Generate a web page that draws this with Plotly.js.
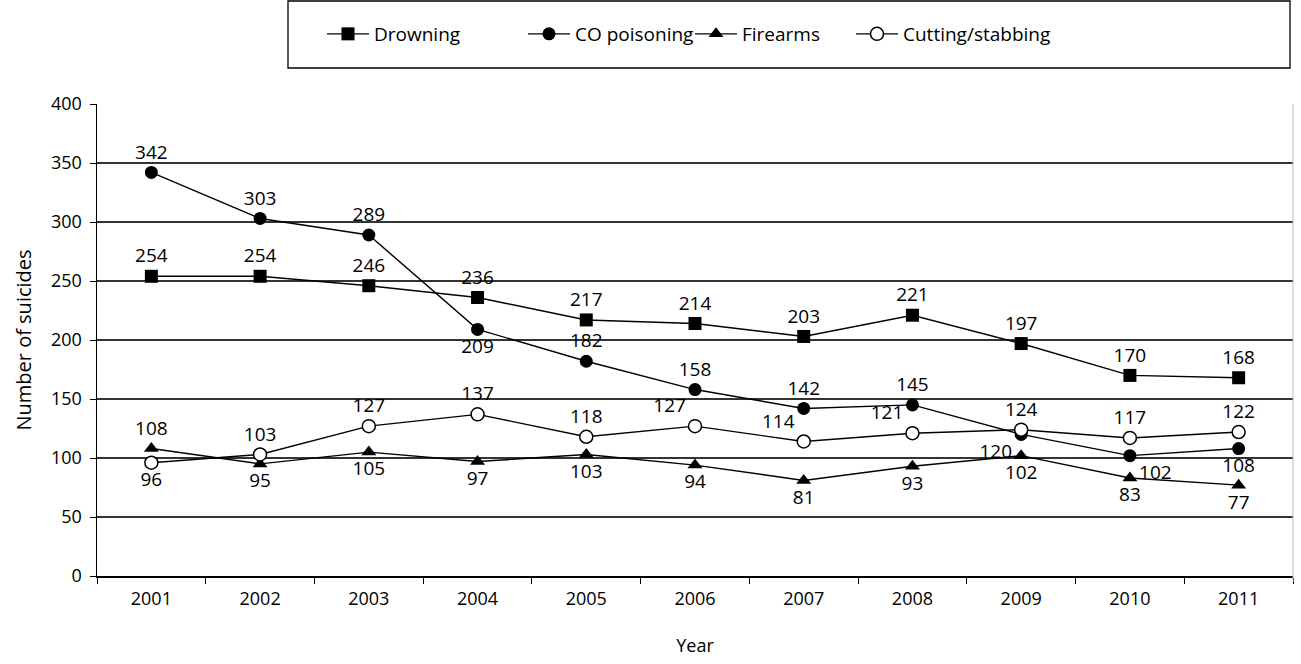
<!DOCTYPE html>
<html>
<head>
<meta charset="utf-8">
<script src="https://cdn.plot.ly/plotly-3.0.1.min.js"></script>
<style>html,body{margin:0;padding:0;background:#fff;}#chart{width:1301px;height:664px;}</style>
</head>
<body>
<div id="chart"></div>
<script>
const years = ['2001','2002','2003','2004','2005','2006','2007','2008','2009','2010','2011'];
const drowning = [254, 254, 246, 236, 217, 214, 203, 221, 197, 170, 168];
const coPoisoning = [342, 303, 289, 209, 182, 158, 142, 145, 120, 102, 108];
const firearms = [108, 95, 105, 97, 103, 94, 81, 93, 102, 83, 77];
const cutting = [96, 103, 127, 137, 118, 127, 114, 121, 124, 117, 122];
const seriesNames = ['Drowning', 'CO poisoning', 'Firearms', 'Cutting/stabbing'];

// label placement (style only)
const posDrowning = Array(11).fill('top center');
const posCO = ['top center','top center','top center','bottom center','top center','top center','top center','top center','bottom left','bottom right','bottom center'];
const posFire = ['top center','bottom center','bottom center','bottom center','bottom center','bottom center','bottom center','bottom center','bottom center','bottom center','bottom center'];
const posCut = ['bottom center','top center','top center','top center','top center','top left','top left','top left','top center','top center','top center'];

const FONT = 'Open Sans, sans-serif';
const lineStyle = {color: '#000', width: 1.4};
const txtFont = {family: FONT, size: 19, color: '#000'};

function mk(name, y, symbol, pos, legend, fill) {
  return {
    type: 'scatter', mode: 'lines+markers+text', name: name,
    x: years, y: y, text: y.map(String), textposition: pos,
    textfont: txtFont, cliponaxis: false,
    line: lineStyle,
    marker: {symbol: symbol, size: 13, color: fill,
             line: {color: '#000', width: fill === '#fff' ? 1.5 : 0}},
    legend: legend, hoverinfo: 'skip'
  };
}

const traces = [
  mk(seriesNames[0], drowning, 'square', posDrowning, 'legend', '#000'),
  mk(seriesNames[1], coPoisoning, 'circle', posCO, 'legend2', '#000'),
  mk(seriesNames[2], firearms, 'triangle-up', posFire, 'legend3', '#000'),
  mk(seriesNames[3], cutting, 'circle', posCut, 'legend4', '#fff')
];

// plot area: y from 104 to 576 (472 px), x from 97 to 1293
const PT = 104, PH = 472, PL = 97, PW = 1196;
function px2y(p) { return (PT + PH - p) / PH; }
function px2x(p) { return (p - PL) / PW; }

function leg(xp) {
  return {x: px2x(xp), y: px2y(34), xanchor: 'left', yanchor: 'middle', orientation: 'h',
          bgcolor: 'rgba(0,0,0,0)', borderwidth: 0, itemwidth: 42,
          font: {family: FONT, size: 19, color: '#000'}};
}

const layout = {
  width: 1301, height: 664,
  margin: {l: PL, r: 1301 - PL - PW, t: PT, b: 664 - PT - PH},
  paper_bgcolor: '#fff', plot_bgcolor: '#fff',
  font: {family: FONT, size: 18, color: '#000'},
  showlegend: true,
  legend: leg(322), legend2: leg(523), legend3: leg(690), legend4: leg(851),
  xaxis: {
    type: 'category', range: [-0.5, 10.5], tickson: 'boundaries', ticks: 'outside', ticklen: 6, tickcolor: '#000',
    showline: true, linecolor: '#000', linewidth: 1.5, showgrid: false, zeroline: false,
    tickfont: {family: FONT, size: 18, color: '#000'}, ticklabelstandoff: 6,
    title: {text: 'Year', font: {family: FONT, size: 18, color: '#000'}, standoff: 30},
    automargin: false, fixedrange: true
  },
  yaxis: {
    range: [0, 400], dtick: 50, ticks: 'outside', ticklen: 6, tickcolor: '#000',
    showline: true, linecolor: '#000', linewidth: 1.5,
    showgrid: true, gridcolor: '#333', gridwidth: 2, zeroline: false,
    tickfont: {family: FONT, size: 18, color: '#000'}, ticklabelstandoff: 4,
    title: {text: 'Number of suicides', font: {family: FONT, size: 20, color: '#000'}, standoff: 14},
    automargin: false, fixedrange: true
  },
  shapes: [
    {type: 'rect', xref: 'paper', yref: 'paper', x0: px2x(288), x1: px2x(1290), y0: px2y(68), y1: px2y(1),
     line: {color: '#000', width: 1.3}, fillcolor: 'rgba(0,0,0,0)'},
    {type: 'line', xref: 'paper', yref: 'paper', x0: 1, x1: 1, y0: px2y(582), y1: 1,
     line: {color: '#bbb', width: 1}}
  ]
};

Plotly.newPlot('chart', traces, layout, {displayModeBar: false, staticPlot: true});
</script>
</body>
</html>
